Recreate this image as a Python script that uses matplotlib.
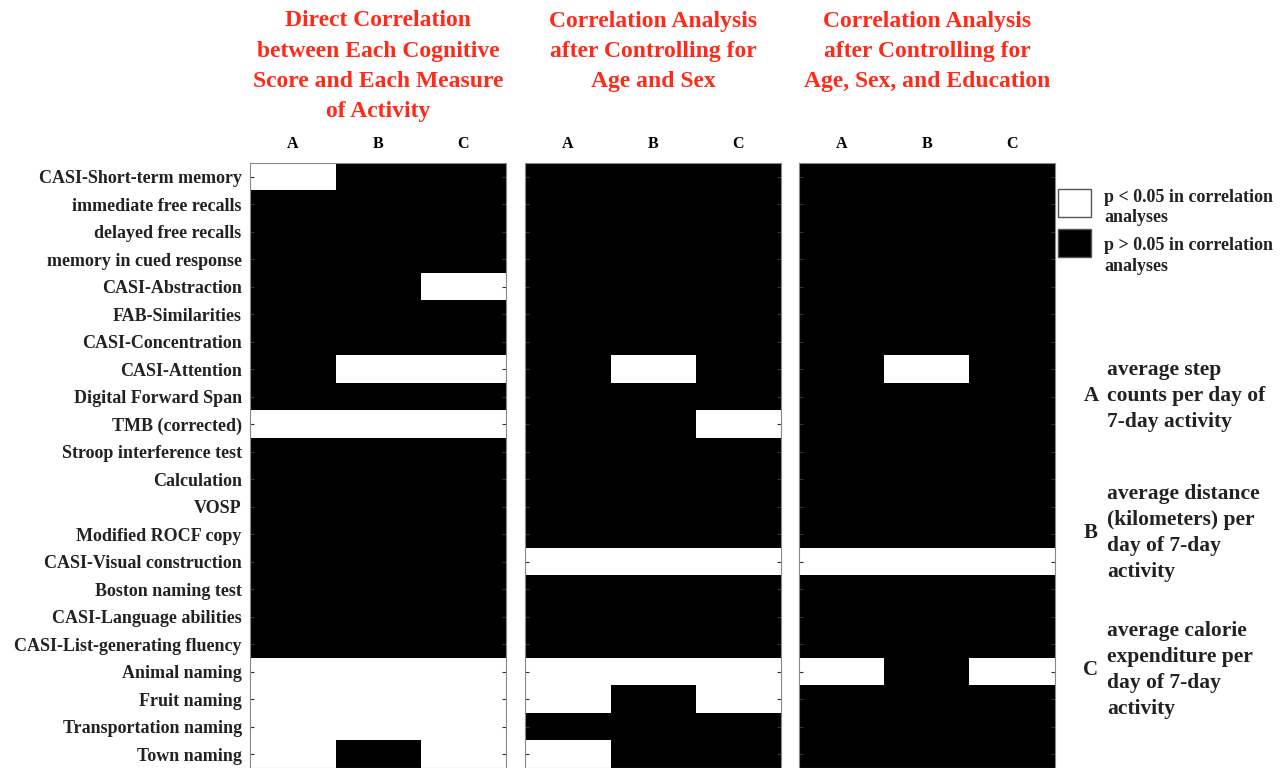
import numpy as np
import matplotlib.pyplot as plt
from matplotlib.patches import Rectangle

measures = ["A", "B", "C"]
tests = ["CASI-Short-term memory", "immediate free recalls", "delayed free recalls",
         "memory in cued response", "CASI-Abstraction", "FAB-Similarities",
         "CASI-Concentration", "CASI-Attention", "Digital Forward Span",
         "TMB (corrected)", "Stroop interference test", "Calculation", "VOSP",
         "Modified ROCF copy", "CASI-Visual construction", "Boston naming test",
         "CASI-Language abilities", "CASI-List-generating fluency", "Animal naming",
         "Fruit naming", "Transportation naming", "Town naming"]

# 1 = p < 0.05 (white), 0 = p > 0.05 (black)
direct = [[1, 0, 0], [0, 0, 0], [0, 0, 0], [0, 0, 0], [0, 0, 1], [0, 0, 0],
          [0, 0, 0], [0, 1, 1], [0, 0, 0], [1, 1, 1], [0, 0, 0], [0, 0, 0],
          [0, 0, 0], [0, 0, 0], [0, 0, 0], [0, 0, 0], [0, 0, 0], [0, 0, 0],
          [1, 1, 1], [1, 1, 1], [1, 1, 1], [1, 0, 1]]
ctrl_age_sex = [[0, 0, 0], [0, 0, 0], [0, 0, 0], [0, 0, 0], [0, 0, 0], [0, 0, 0],
                [0, 0, 0], [0, 1, 0], [0, 0, 0], [0, 0, 1], [0, 0, 0], [0, 0, 0],
                [0, 0, 0], [0, 0, 0], [1, 1, 1], [0, 0, 0], [0, 0, 0], [0, 0, 0],
                [1, 1, 1], [1, 0, 1], [0, 0, 0], [1, 0, 0]]
ctrl_age_sex_edu = [[0, 0, 0], [0, 0, 0], [0, 0, 0], [0, 0, 0], [0, 0, 0], [0, 0, 0],
                    [0, 0, 0], [0, 1, 0], [0, 0, 0], [0, 0, 0], [0, 0, 0], [0, 0, 0],
                    [0, 0, 0], [0, 0, 0], [1, 1, 1], [0, 0, 0], [0, 0, 0], [0, 0, 0],
                    [1, 0, 1], [0, 0, 0], [0, 0, 0], [0, 0, 0]]

titles = [["Direct Correlation", "between Each Cognitive", "Score and Each Measure", "of Activity"],
          ["Correlation Analysis", "after Controlling for", "Age and Sex"],
          ["Correlation Analysis", "after Controlling for", "Age, Sex, and Education"]]
legend_labels = [["p < 0.05 in correlation", "analyses"],
                 ["p > 0.05 in correlation", "analyses"]]
measure_desc = [["average step", "counts per day of", "7-day activity"],
                ["average distance", "(kilometers) per", "day of 7-day", "activity"],
                ["average calorie", "expenditure per", "day of 7-day", "activity"]]

plt.rcParams['font.family'] = ['Liberation Serif', 'DejaVu Serif']
plt.rcParams['font.weight'] = 'bold'

W, H = 1285, 768
fig = plt.figure(figsize=(W / 100, H / 100), dpi=100)


def put(x, y, s, **kw):
    # place text using pixel coordinates measured from the top-left
    fig.text(x / W, 1 - y / H, s, **kw)


lefts = [250, 525, 799]
width = 256
top = 163
for i, (data, title) in enumerate(zip([direct, ctrl_age_sex, ctrl_age_sex_edu], titles)):
    ax = fig.add_axes([lefts[i] / W, 0, width / W, (H - top) / H])
    ax.imshow(np.array(data), cmap='gray', vmin=0, vmax=1, aspect='auto',
              interpolation='nearest')
    ax.set_xticks(range(3))
    ax.set_xticklabels(measures, fontsize=11.5, fontweight='bold')
    ax.xaxis.tick_top()
    ax.tick_params(axis='x', length=0, pad=8)
    ax.set_yticks(range(len(tests)))
    ax.tick_params(axis='y', direction='in', left=True, right=True, length=3,
                   color='#333333', pad=6)
    if i == 0:
        ax.set_yticklabels(tests, fontsize=13, fontweight='bold', color='#222222')
    else:
        ax.set_yticklabels([])
    for s in ax.spines.values():
        s.set_color('#888888')
        s.set_linewidth(0.8)
    for k, line in enumerate(title):
        put(lefts[i] + width / 2, 21 + 30.3 * k, line, ha='center', va='center',
            color='#ff2a1a', fontsize=17, fontweight='bold')

# legend
for k, (col, y0, ty) in enumerate(zip(['white', 'black'], [189, 229], [197, 245])):
    fig.patches.append(Rectangle((1058 / W, 1 - (y0 + 28) / H), 33 / W, 28 / H,
                                 transform=fig.transFigure, facecolor=col,
                                 edgecolor='#555555', linewidth=1))
    for j, line in enumerate(legend_labels[k]):
        put(1104, ty + 21 * j, line, ha='left', va='center', fontsize=13,
            fontweight='bold', color='#222222')

# measure descriptions
starts = [370, 494, 631]
for m, desc, y0 in zip(measures, measure_desc, starts):
    yc = y0 + 26 * (len(desc) - 1) / 2
    put(1091, yc, m, ha='center', va='center', fontsize=15,
        fontweight='bold', color='#222222')
    for j, line in enumerate(desc):
        put(1107, y0 + 26 * j, line, ha='left', va='center', fontsize=15.5,
            fontweight='bold', color='#222222')

fig.savefig('out.png', dpi=100)
